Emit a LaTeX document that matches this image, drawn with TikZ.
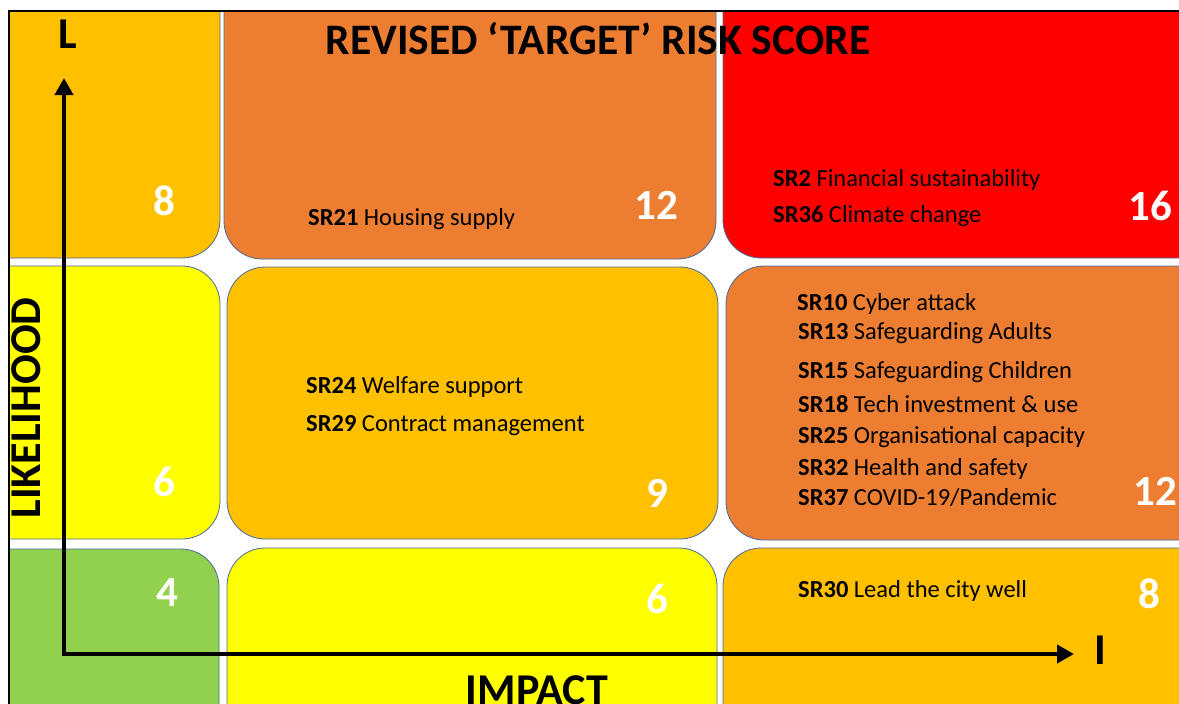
\documentclass[tikz,border=0pt]{standalone}
\usepackage{fontspec}
\setmainfont{Carlito}
\usetikzlibrary{arrows.meta}

\definecolor{riskgreen}{HTML}{92D050}
\definecolor{riskyellow}{HTML}{FFFF00}
\definecolor{riskamber}{HTML}{FFC000}
\definecolor{riskorange}{HTML}{ED7D31}
\definecolor{riskred}{HTML}{FF0000}
\definecolor{cellline}{HTML}{4A6A9A}

\begin{document}
\begin{tikzpicture}
	[	x=1pt, y=-1pt,					% 1 unit = 1 px, y goes down
		cell/.style={draw=cellline, line width=0.8pt, rounded corners=38pt},	% matrix cell
		score/.style={anchor=base, text=white, font=\fontsize{43}{43}\selectfont\bfseries},
		risk/.style={anchor=base west, inner sep=0pt, font=\fontsize{24.5}{24.5}\selectfont},
		caption/.style={anchor=base, font=\fontsize{44}{44}\selectfont\bfseries},
		axis/.style={line width=4pt, line join=miter,
			arrows={Triangle[length=17pt,width=18pt]-Triangle[length=17pt,width=18pt]}}	]
	\useasboundingbox (0,0) rectangle (1179,704);
	\begin{scope}
		\clip (9,11) rectangle (1179,704);			% slide window
		\foreach \xa/\ya/\xb/\yb/\c in {
				-40/-40/220/258/riskamber, 224/-40/716/259/riskorange, 723/-40/1240/258/riskred,
				-40/266/220/539/riskyellow, 227/267/718/539/riskamber, 726/266/1240/540/riskorange,
				-40/549/219/760/riskgreen, 227/548/717/760/riskyellow, 723/548/1240/760/riskamber}
			\filldraw[cell, fill=\c] (\xa,\ya) rectangle (\xb,\yb);
	\end{scope}
	\draw[line width=1.5pt] (9,704) -- (9,11) -- (1179,11);		% frame
	% scores
	\foreach \x/\y/\n [count=\i] in {164/215/8, 656/219/12, 1150/220/16, 164/496/6, 657/507/9,
			1155/505/12, 167/606/4, 657/613/6, 1149/608/8}
		\node[score] (score\i) at (\x,\y) {\n};
	% risks
	\node[risk] (sr21) at (308,225) {\textbf{SR21} Housing supply};
	\node[risk] (sr2) at (773,186) {\textbf{SR2} Financial sustainability};
	\node[risk] (sr36) at (773,222) {\textbf{SR36} Climate change};
	\node[risk] (sr24) at (306,393) {\textbf{SR24} Welfare support};
	\node[risk] (sr29) at (306,431) {\textbf{SR29} Contract management};
	\node[risk] (sr10) at (797,310) {\textbf{SR10} Cyber attack};
	\node[risk] (sr13) at (798,339) {\textbf{SR13} Safeguarding Adults};
	\node[risk] (sr15) at (798,378) {\textbf{SR15} Safeguarding Children};
	\node[risk] (sr18) at (798,412) {\textbf{SR18} Tech investment \& use};
	\node[risk] (sr25) at (798,443) {\textbf{SR25} Organisational capacity};
	\node[risk] (sr32) at (798,475) {\textbf{SR32} Health and safety};
	\node[risk] (sr37) at (798,505) {\textbf{SR37} COVID-19/Pandemic};
	\node[risk] (sr30) at (798,597) {\textbf{SR30} Lead the city well};
	% titles and axes
	\node[caption, font=\fontsize{43.5}{43.5}\selectfont\bfseries] (title) at (598,54) {REVISED ‘TARGET’ RISK SCORE};
	\node[caption] (lname) at (68,48) {L};
	\node[caption] (iname) at (1100,664) {I};
	\node[caption, rotate=90] (likelihood) at (40,408) {LIKELIHOOD};
	\node[caption] (impact) at (537,704) {IMPACT};
	\coordinate (origin) at (64,654);
	\coordinate (ltip) at (64,78);
	\coordinate (itip) at (1074,654);
	\draw[axis] (ltip) -- (origin) -- (itip);
\end{tikzpicture}
\end{document}
